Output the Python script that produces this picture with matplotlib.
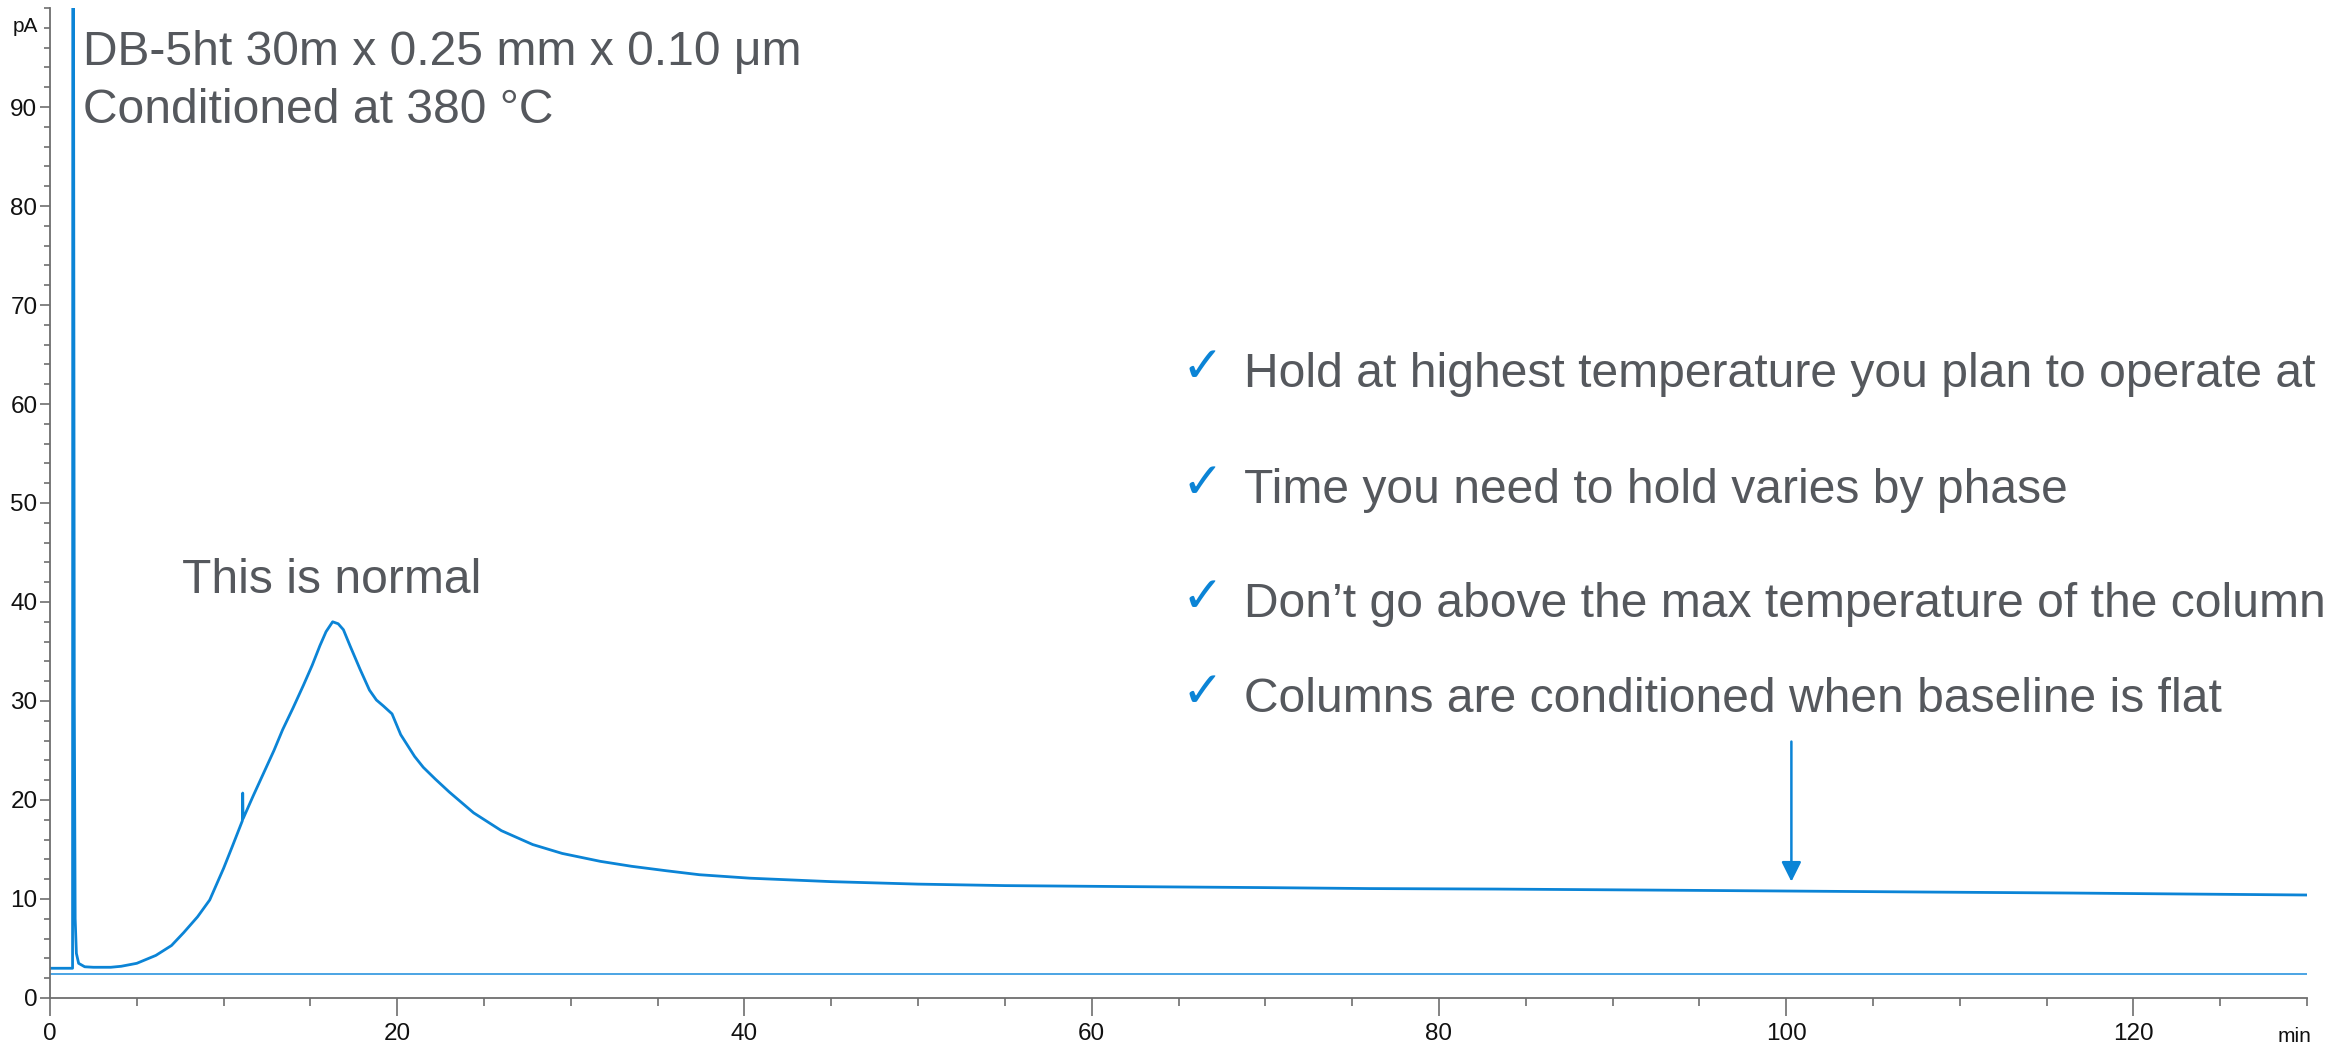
import matplotlib.pyplot as plt
from matplotlib.ticker import MultipleLocator

# chromatogram (time in min, signal in pA)
time_min = [0, 1.30, 1.32, 1.40, 1.45, 1.52, 1.65, 2.0, 2.5, 3.5, 4.1, 5.0,
            6.1, 7.0, 7.7, 8.5, 9.2, 10.0, 10.5, 11.08, 11.1, 11.12, 11.7,
            12.3, 12.9, 13.4, 14.0, 14.6, 15.1, 15.55, 15.9, 16.28, 16.6,
            16.9, 17.3, 17.86, 18.4, 18.8, 19.2, 19.7, 20.2, 21.0, 21.5, 22.2,
            23.0, 24.4, 26.0, 27.8, 29.5, 31.7, 33.5, 35.5, 37.4, 40.3, 45,
            50, 55, 62, 69.8, 76, 83.3, 92, 100.2, 108, 116.4, 123, 130]
signal_pa = [3.0, 3.0, 160, 30, 8, 4.5, 3.5, 3.15, 3.1, 3.1, 3.2, 3.5,
             4.3, 5.3, 6.6, 8.2, 9.9, 13.1, 15.3, 17.9, 20.7, 18.1, 20.4,
             22.7, 25.0, 27.1, 29.3, 31.6, 33.6, 35.6, 37.0, 38.0, 37.8,
             37.2, 35.5, 33.2, 31.1, 30.1, 29.5, 28.7, 26.6, 24.4, 23.3, 22.1,
             20.8, 18.7, 16.9, 15.5, 14.6, 13.8, 13.3, 12.85, 12.45, 12.1,
             11.75, 11.5, 11.35, 11.25, 11.15, 11.05, 11.0, 10.9, 10.8, 10.7,
             10.6, 10.5, 10.4]

# lower reference trace
ref_time = [0, 130]
ref_signal = [2.4, 2.4]

bullets = ["Hold at highest temperature you plan to operate at",
           "Time you need to hold varies by phase",
           "Don\u2019t go above the max temperature of the column",
           "Columns are conditioned when baseline is flat"]
bullet_y = [61.7, 50.0, 38.5, 28.9]

header = ["DB-5ht 30m x 0.25 mm x 0.10 \u03bcm", "Conditioned at 380 \u00b0C"]
header_y = [94.2, 88.4]

blue = '#0b84d6'
grey_text = '#55585d'
axis_grey = '#6e6e6e'

plt.rcParams['font.family'] = ['Liberation Sans', 'DejaVu Sans']

fig = plt.figure(figsize=(23.36, 10.44), dpi=100)
ax = fig.add_axes([0.0214, 0.0441, 0.9662, 0.9482])

ax.plot(time_min, signal_pa, color=blue, lw=2.0)
ax.plot(ref_time, ref_signal, color='#3d9de2', lw=1.3)

ax.set_xlim(0, 130)
ax.set_ylim(0, 100)

ax.set_xticks(range(0, 121, 20))
ax.xaxis.set_minor_locator(MultipleLocator(5))
ax.set_yticks(range(0, 91, 10))
ax.yaxis.set_minor_locator(MultipleLocator(2))

for side in ['top', 'right']:
    ax.spines[side].set_visible(False)
for side in ['left', 'bottom']:
    ax.spines[side].set_color(axis_grey)
    ax.spines[side].set_linewidth(1.3)

ax.tick_params(axis='x', which='major', length=13, width=1.2, color=axis_grey,
               labelsize=17.5, labelcolor='#111111', pad=5)
ax.tick_params(axis='x', which='minor', length=6, width=1.2, color=axis_grey)
ax.tick_params(axis='y', which='major', length=7.5, width=1.2, color=axis_grey,
               labelsize=17.5, labelcolor='#111111', pad=1.5)
ax.tick_params(axis='y', which='minor', length=4.5, width=1.2, color=axis_grey)

ax.text(-0.7, 98.1, 'pA', ha='right', va='center', fontsize=15,
        color='#111111', clip_on=False)
ax.text(129.3, -4.4, 'min', ha='center', va='baseline', fontsize=15,
        color='#111111', clip_on=False)

for line, y in zip(header, header_y):
    ax.text(1.9, y, line, fontsize=34.6, color=grey_text, va='baseline')

ax.text(7.6, 40.9, 'This is normal', fontsize=34.6, color=grey_text,
        va='baseline')

for line, y in zip(bullets, bullet_y):
    ax.text(65.2, y + 0.5, '\u2713', fontsize=36, color=blue, va='baseline',
            family='DejaVu Sans', fontweight='bold')
    ax.text(68.8, y, line, fontsize=34.6, color=grey_text, va='baseline')

ax.annotate('', xy=(100.3, 11.75), xytext=(100.3, 25.9),
            arrowprops=dict(arrowstyle='-|>,head_length=0.6,head_width=0.3',
                            mutation_scale=20, color=blue, lw=1.8,
                            shrinkA=0, shrinkB=0))

fig.savefig('out.png', dpi=100)
